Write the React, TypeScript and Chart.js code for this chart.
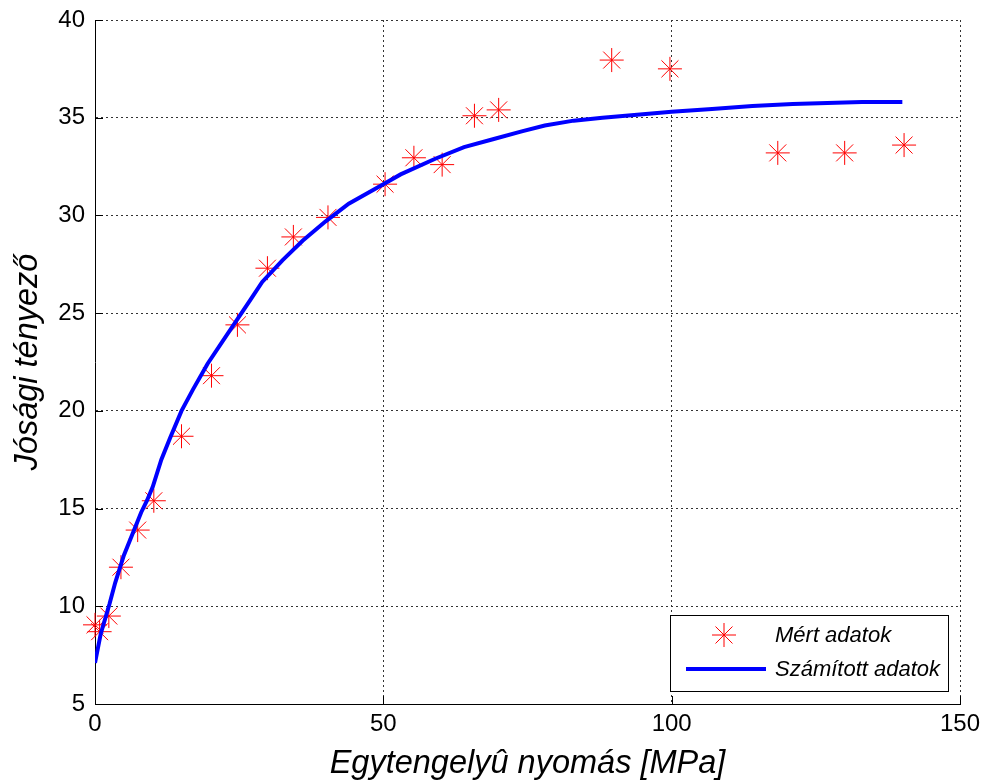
import React, { useEffect, useRef } from "react";
import { Chart, registerables } from "chart.js";

Chart.register(...registerables);

// Measured data (Mért adatok)
const measuredX = [0, 0.8, 2.4, 4.5, 7.4, 10.2, 15.0, 20.2, 24.7, 29.9, 34.4, 40.4, 50.3, 55.3, 60.2, 65.8, 70.0, 89.6, 99.7, 118.4, 130.0, 140.3];
const measuredY = [9.05, 8.7, 9.5, 12.0, 13.9, 15.4, 18.7, 21.8, 24.4, 27.3, 28.9, 29.9, 31.6, 32.95, 32.6, 35.1, 35.4, 37.95, 37.5, 33.2, 33.2, 33.6];

// Calculated curve (Számított adatok)
const curveX = [0, 1, 2.5, 3.5, 5, 6.5, 8, 9, 10, 11.5, 13, 15, 17, 19.5, 22, 24.5, 27, 29, 32.5, 36, 40, 44, 50, 53, 59, 64, 69, 74, 78, 83, 88, 94, 100, 107, 114, 121, 133, 140];
const curveY = [7.1, 8.6, 10.1, 11.2, 12.6, 13.7, 14.8, 15.4, 16.1, 17.5, 18.6, 20.0, 21.1, 22.4, 23.5, 24.6, 25.7, 26.6, 27.7, 28.7, 29.7, 30.6, 31.6, 32.1, 32.9, 33.5, 33.9, 34.3, 34.6, 34.85, 35.0, 35.15, 35.3, 35.45, 35.6, 35.7, 35.8, 35.8];

const xTicks = [0, 50, 100, 150];
const yTicks = [5, 10, 15, 20, 25, 30, 35, 40];

const labelMeasured = "Mért adatok";
const labelCurve = "Számított adatok";
const xTitle = "Egytengelyû nyomás [MPa]";
const yTitle = "Jósági tényező";

const FONT = "'Liberation Sans', Arial, Helvetica, sans-serif";

function drawStar(ctx: CanvasRenderingContext2D, x: number, y: number, r: number) {
  ctx.beginPath();
  for (let i = 0; i < 4; i++) {
    const a = (i * Math.PI) / 4;
    const dx = Math.cos(a) * r;
    const dy = Math.sin(a) * r;
    ctx.moveTo(x - dx, y - dy);
    ctx.lineTo(x + dx, y + dy);
  }
  ctx.stroke();
}

const decorPlugin = {
  id: "decor",
  afterDraw(chart: any) {
    const ctx: CanvasRenderingContext2D = chart.ctx;
    const { left, right, top, bottom } = chart.chartArea;
    const xs = chart.scales.x;
    const ys = chart.scales.y;
    ctx.save();
    // inward tick marks
    ctx.strokeStyle = "#000";
    ctx.lineWidth = 1;
    ctx.beginPath();
    xTicks.forEach((v) => {
      const px = Math.round(xs.getPixelForValue(v)) + 0.5;
      ctx.moveTo(px, bottom);
      ctx.lineTo(px, bottom - 8);
    });
    yTicks.forEach((v) => {
      const py = Math.round(ys.getPixelForValue(v)) + 0.5;
      ctx.moveTo(left, py);
      ctx.lineTo(left + 8, py);
    });
    ctx.stroke();

    // axis titles
    ctx.fillStyle = "#000";
    ctx.font = `italic 32.5px ${FONT}`;
    ctx.textAlign = "center";
    ctx.textBaseline = "alphabetic";
    ctx.fillText(xTitle, (left + right) / 2, 773);
    ctx.save();
    ctx.translate(37, (top + bottom) / 2);
    ctx.rotate(-Math.PI / 2);
    ctx.fillText(yTitle, 0, 0);
    ctx.restore();

    // legend
    const lx = 670.5, ly = 615.5, lw = 278, lh = 76;
    ctx.fillStyle = "#fff";
    ctx.fillRect(lx, ly, lw, lh);
    ctx.strokeStyle = "#000";
    ctx.lineWidth = 1;
    ctx.strokeRect(lx, ly, lw, lh);
    ctx.strokeStyle = "#ff0000";
    drawStar(ctx, 724, 635, 12);
    ctx.strokeStyle = "#0000ff";
    ctx.lineWidth = 4;
    ctx.beginPath();
    ctx.moveTo(686, 669);
    ctx.lineTo(766, 669);
    ctx.stroke();
    ctx.fillStyle = "#000";
    ctx.font = `italic 22px ${FONT}`;
    ctx.textAlign = "left";
    ctx.textBaseline = "middle";
    ctx.fillText(chart.data.datasets[1].label, 775, 636);
    ctx.fillText(chart.data.datasets[0].label, 775, 670);
    ctx.restore();
  },
};

export default function App() {
  const ref = useRef<HTMLCanvasElement | null>(null);
  useEffect(() => {
    if (!ref.current) return;
    const chart = new Chart(ref.current, {
      type: "line",
      data: {
        datasets: [
          {
            label: labelCurve,
            data: curveX.map((x, i) => ({ x, y: curveY[i] })),
            borderColor: "#0000ff",
            borderWidth: 4,
            pointRadius: 0,
            tension: 0,
            fill: false,
            order: 0,
          },
          {
            label: labelMeasured,
            data: measuredX.map((x, i) => ({ x, y: measuredY[i] })),
            showLine: false,
            pointStyle: "star",
            pointRadius: 12,
            pointBorderWidth: 1,
            pointBorderColor: "#ff0000",
            pointBackgroundColor: "#ff0000",
            borderColor: "#ff0000",
            clip: false,
            order: 1,
          } as any,
        ],
      },
      options: {
        animation: false,
        responsive: false,
        layout: { padding: { top: 20, right: 28, left: 0, bottom: 0 } },
        plugins: { legend: { display: false }, tooltip: { enabled: false }, title: { display: false } },
        scales: {
          x: {
            type: "linear",
            min: 0,
            max: 150,
            afterFit: (s: any) => { s.height = 78; s.paddingLeft = 0; s.paddingRight = 0; },
            afterBuildTicks: (s: any) => { s.ticks = xTicks.map((v) => ({ value: v })); },
            ticks: { color: "#000", font: { family: FONT, size: 24 }, padding: 6, maxRotation: 0 },
            grid: { color: "#333", lineWidth: 1, drawTicks: false },
            border: { display: true, color: "#000", width: 1, dash: [2, 3] },
          },
          y: {
            type: "linear",
            min: 5,
            max: 40,
            afterFit: (s: any) => { s.width = 95; s.paddingTop = 0; s.paddingBottom = 0; },
            afterBuildTicks: (s: any) => { s.ticks = yTicks.map((v) => ({ value: v })); },
            ticks: { color: "#000", font: { family: FONT, size: 24 }, padding: 10 },
            grid: { color: "#333", lineWidth: 1, drawTicks: false },
            border: { display: true, color: "#000", width: 1, dash: [2, 3] },
          },
        },
      },
      plugins: [decorPlugin],
    });
    return () => chart.destroy();
  }, []);
  return (
    <div style={{ position: "absolute", left: 0, top: 0, width: 988, height: 782, background: "#fff" }}>
      <canvas ref={ref} width={988} height={782} />
    </div>
  );
}
